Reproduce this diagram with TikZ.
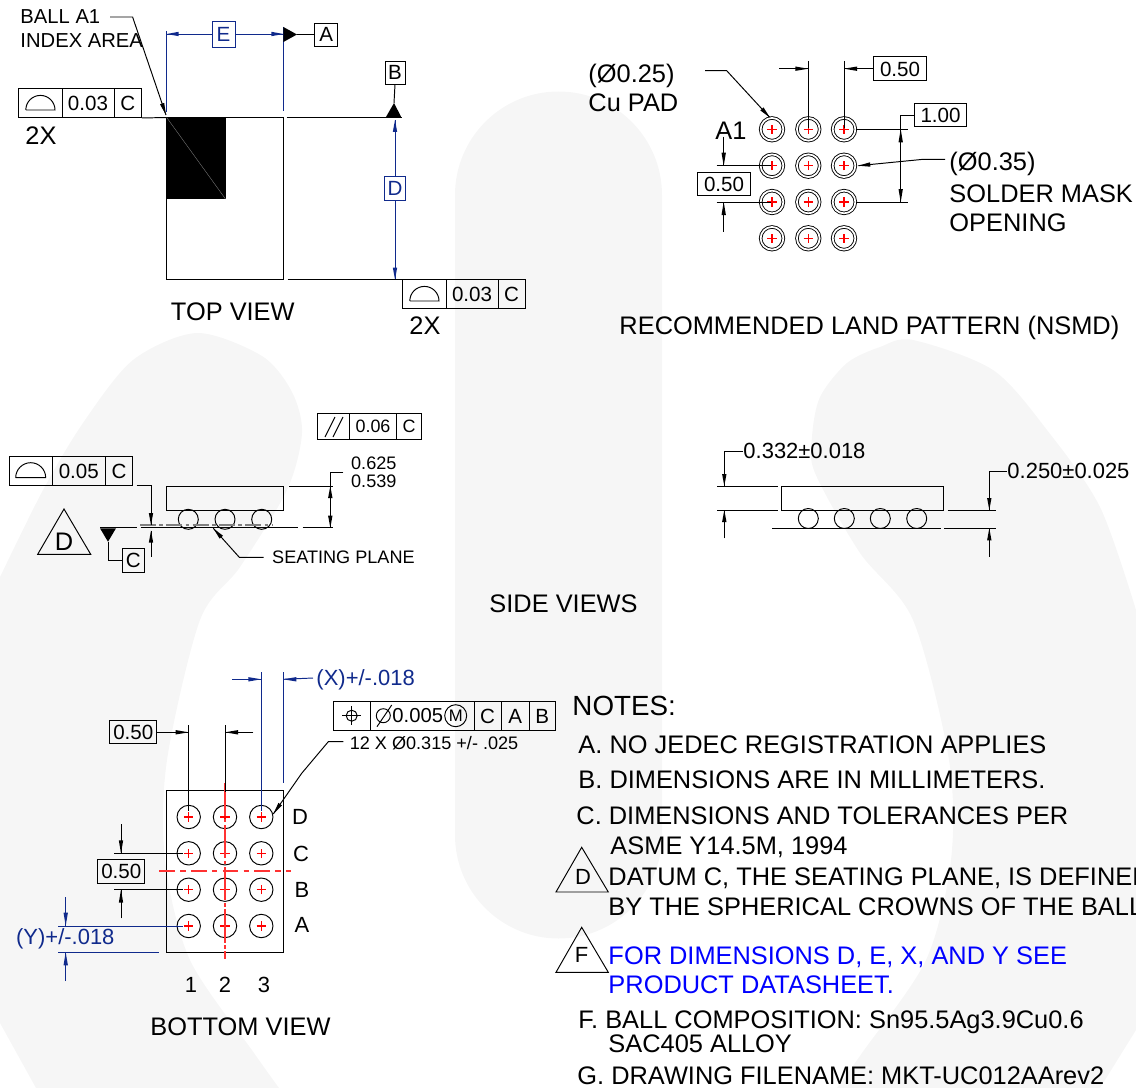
\documentclass[tikz,border=0pt]{standalone}
\usepackage{fontspec}
\usepackage{xcolor}
\setmainfont{Liberation Sans}
\definecolor{dimblue}{RGB}{16,42,140}
\definecolor{noteblue}{RGB}{0,0,255}
\definecolor{padred}{RGB}{255,0,0}
\definecolor{linered}{RGB}{255,50,50}
\definecolor{wmgray}{RGB}{246,246,246}
\begin{document}
\begin{tikzpicture}[x=0.02cm, y=0.02cm, line width=0.55pt]
\tikzstyle{every node}+=[inner sep=0pt]
\tikzstyle{labelbig}=[font=\fontsize{14.45}{17}\selectfont, anchor=west, text height=10.3pt, text depth=0pt]
\tikzstyle{labelmid}=[font=\fontsize{12.5}{15}\selectfont, anchor=west, text height=9pt, text depth=0pt]
\tikzstyle{labelbox}=[font=\fontsize{11.5}{14}\selectfont, anchor=west, text height=8.3pt, text depth=0pt]
\tikzstyle{labelsmall}=[font=\fontsize{10.3}{12}\selectfont, anchor=west, text height=7.4pt, text depth=0pt]
\tikzstyle{tolbox}=[draw, black, rectangle, font=\fontsize{11.7}{14}\selectfont, text height=8.4pt, text depth=0pt]
\tikzstyle{tolboxsmall}=[tolbox, font=\fontsize{10.2}{12}\selectfont, text height=7.3pt]
\tikzstyle{dimbox}=[tolbox, draw=dimblue, text=dimblue]
\tikzstyle{crossmark}=[path picture={
  \draw [padred, line width=0.62pt] ([xshift=-2.6pt]path picture bounding box.center) -- ([xshift=2.6pt]path picture bounding box.center);
  \draw [padred, line width=0.62pt] ([yshift=-2.6pt]path picture bounding box.center) -- ([yshift=2.6pt]path picture bounding box.center);}]
\tikzstyle{landpad}=[circle, draw, line width=0.5pt, double, double distance=1pt, minimum size=0.454cm, crossmark]
\tikzstyle{ballpad}=[circle, draw, minimum size=0.468cm, crossmark]
\useasboundingbox (0,0) rectangle (1136,-1088);
% watermark
\fill [wmgray] (455,-195) arc (180:0:103.5) -- (662,-835) arc (0:-180:103.5) -- cycle;
\fill [wmgray] (0,-577) -- plot [smooth] coordinates {(0,-577) (43,-490) (83,-423) (133,-360) (197,-333) (262,-356) (292,-392) (302,-433) (287,-490) (240,-567) (200,-620) (167,-760) (165,-860) (190,-960) (254,-1053) (279,-1088)} -- (36,-1088) -- (0,-1023) -- cycle;
\fill [wmgray] (1136,-610) -- plot [smooth] coordinates {(1136,-610) (1100,-507) (1047,-430) (993,-370) (913,-340) (880,-347) (847,-363) (820,-397) (812,-437) (815,-473) (860,-553) (913,-620) (949,-760) (951,-860) (926,-960) (862,-1053) (837,-1088)} -- (1100,-1088) -- (1136,-1030) -- cycle;
% top view
\draw [black] (166.7,-117.5) rectangle (283.4,-279.5);
\fill [black] (166.7,-117.5) rectangle (225.5,-199);
\draw [gray, line width=0.2pt] (166.7,-117.5) -- (225.5,-199);
\node [labelbox] (ballidx) at (20,-16) {BALL A1};
\node [labelbox] (indexarea) at (20,-40) {INDEX AREA};
\draw [black] (110,-17) -- (132.6,-17) -- (166,-115);
\fill [black] (166,-115) -- (164.2,-102.9) -- (160,-104.3);
\draw [dimblue] (166.7,-31) -- (166.7,-112);
\draw [dimblue] (283.4,-27) -- (283.4,-111);
\node [dimbox, minimum width=0.46cm, minimum height=0.52cm] (dimE) at (223.5,-34) {E};
\draw [dimblue] (dimE.west) -- (166.7,-34);
\fill [dimblue] (166.7,-34) -- (178.7,-31.8) -- (178.7,-36.2);
\draw [dimblue] (dimE.east) -- (283.4,-34);
\fill [dimblue] (283.4,-34) -- (271.4,-31.8) -- (271.4,-36.2);
\node [tolbox, minimum width=0.45cm, minimum height=0.46cm] (datA) at (326.2,-34.5) {A};
\fill [black] (283.4,-27) -- (297,-34.5) -- (283.4,-42);
\draw [black] (297,-34.5) -- (datA.west);
\node [tolbox, minimum width=0.4cm, minimum height=0.46cm] (datB) at (395,-72.5) {B};
\draw [black] (datB.south) -- (394,-103);
\fill [black] (394,-103) -- (385.7,-117.5) -- (401.5,-117.5);
\draw [black] (286.5,-117.5) -- (401.5,-117.5);
\node [dimbox, minimum width=0.42cm, minimum height=0.47cm] (dimD) at (395,-188.5) {D};
\draw [dimblue] (dimD.north) -- (395,-120);
\fill [dimblue] (395,-120) -- (392.8,-132) -- (397.2,-132);
\draw [dimblue] (dimD.south) -- (395,-279.5);
\fill [dimblue] (395,-279.5) -- (392.8,-267.5) -- (397.2,-267.5);
\draw [black] (287.5,-279.5) -- (402,-279.5);
\node [tolbox, minimum width=0.876cm, minimum height=0.59cm] (topa) at (40.1,-102.75) {};
\node [tolbox, minimum width=1.04cm, minimum height=0.59cm] (topb) at (88,-102.75) {0.03};
\node [tolbox, minimum width=0.55cm, minimum height=0.59cm] (topc) at (127.75,-102.75) {C};
\draw [black] (25.8,-110) -- (55,-110) arc (0:180:14.6);
\draw [black] (topc.south east) -- (166.7,-117.5);
\node [labelbig] (topx) at (25,-135) {2X};
\node [tolbox, minimum width=0.88cm, minimum height=0.57cm] (bota) at (424,-293.75) {};
\node [tolbox, minimum width=1.04cm, minimum height=0.57cm] (botb) at (472,-293.75) {0.03};
\node [tolbox, minimum width=0.54cm, minimum height=0.57cm] (botc) at (511.5,-293.75) {C};
\draw [black] (409.8,-301) -- (439,-301) arc (0:180:14.6);
\node [labelbig] (botx) at (409,-325) {2X};
\node [labelbig] (topview) at (170.5,-311) {TOP VIEW};
% land pattern
\node [labelbig] (cupad1) at (588,-73) {(Ø0.25)};
\node [labelbig] (cupad2) at (588,-102) {Cu PAD};
\draw [black] (705,-70.7) -- (726.7,-70.7) -- (770,-117.7);
\fill [black] (770,-117.7) -- (763.5,-107.4) -- (760.3,-110.4);
\node [labelbig, anchor=center] (aone) at (731,-130) {A1};
\node [landpad] (p11) at (772,-129.3) {};
\node [landpad] (p12) at (808.3,-129.3) {};
\node [landpad] (p13) at (844,-129.3) {};
\node [landpad] (p21) at (772,-165.7) {};
\node [landpad] (p22) at (808.3,-165.7) {};
\node [landpad] (p23) at (844,-165.7) {};
\node [landpad] (p31) at (772,-202) {};
\node [landpad] (p32) at (808.3,-202) {};
\node [landpad] (p33) at (844,-202) {};
\node [landpad] (p41) at (772,-238.3) {};
\node [landpad] (p42) at (808.3,-238.3) {};
\node [landpad] (p43) at (844,-238.3) {};
\draw [black] (808.3,-61) -- ([yshift=-6pt]p12.north);
\draw [black] (844,-61) -- ([yshift=-6pt]p13.north);
\node [tolbox, minimum width=1.07cm, minimum height=0.48cm] (landpitchx) at (900,-68.7) {0.50};
\draw [black] (779.3,-68.7) -- (808.3,-68.7);
\fill [black] (808.3,-68.7) -- (795.3,-66.5) -- (795.3,-70.9);
\draw [black] (landpitchx.west) -- (844,-68.7);
\fill [black] (844,-68.7) -- (857,-66.5) -- (857,-70.9);
\draw [black] (716.7,-165.7) -- ([xshift=6pt]p21.west);
\draw [black] (716.7,-202) -- ([xshift=6pt]p31.west);
\draw [black] (723.7,-136.7) -- (723.7,-165.7);
\fill [black] (723.7,-165.7) -- (721.5,-152.7) -- (725.9,-152.7);
\draw [black] (723.7,-231.7) -- (723.7,-202);
\fill [black] (723.7,-202) -- (721.5,-215) -- (725.9,-215);
\node [tolbox, minimum width=1.07cm, minimum height=0.47cm] (landpitchy) at (724,-184) {0.50};
\draw [black] (p13.east) -- (907.7,-129.3);
\draw [black] (p33.east) -- (907.7,-202);
\node [tolbox, minimum width=1.05cm, minimum height=0.47cm] (landspan) at (940.5,-115) {1.00};
\draw [black] (landspan.west) -- (900.7,-115) -- (900.7,-202);
\fill [black] (900.7,-129.3) -- (898.5,-142.3) -- (902.9,-142.3);
\fill [black] (900.7,-202) -- (898.5,-189) -- (902.9,-189);
\draw [black] (945,-159.3) -- (923.3,-159.3) -- (858.3,-165.7);
\fill [black] (858.3,-165.7) -- (870.4,-166.7) -- (870,-162.3);
\node [labelbig] (mask1) at (949,-161) {(Ø0.35)};
\node [labelbig] (mask2) at (949,-193) {SOLDER MASK};
\node [labelbig] (mask3) at (949,-222) {OPENING};
\node [labelbig] (landtitle) at (619,-325) {RECOMMENDED LAND PATTERN (NSMD)};
% side view with datum
\node [tolboxsmall, minimum width=0.632cm, minimum height=0.52cm] (para) at (333.5,-426.3) {};
\node [tolboxsmall, minimum width=0.948cm, minimum height=0.52cm] (parb) at (373,-426.3) {0.06};
\node [tolboxsmall, minimum width=0.5cm, minimum height=0.52cm] (parc) at (409.2,-426.3) {C};
\draw [black] (325,-437) -- (335,-417);
\draw [black] (333,-437) -- (343,-417);
\node [tolbox, minimum width=0.866cm, minimum height=0.58cm] (sida) at (30.65,-471.2) {};
\node [tolbox, minimum width=1.06cm, minimum height=0.58cm] (sidb) at (78.8,-471.2) {0.05};
\node [tolbox, minimum width=0.548cm, minimum height=0.58cm] (sidc) at (119,-471.2) {C};
\draw [black] (15.7,-477.7) -- (45.7,-477.7) arc (0:180:15);
\draw [black] (166.7,-486) rectangle (283.3,-510);
\draw [black] (188.3,-519.3) circle (10);
\draw [black] (225,-519.3) circle (10);
\draw [black] (261.7,-519.3) circle (10);
\draw [black] (100,-527.7) -- (136.7,-527.7);
\draw [black] (140.7,-527.7) -- (297.7,-527.7);
\draw [black] (302.7,-527.7) -- (333.3,-527.7);
\draw [gray, line width=0.6pt, dash pattern=on 9pt off 2pt on 2pt off 2pt] (140,-525) -- (272,-525);
\draw [black] (289,-486) -- (333.3,-486);
\draw [black] (136.7,-485.7) -- (151,-485.7) -- (151,-525);
\fill [black] (151,-525) -- (148.8,-513) -- (153.2,-513);
\draw [black] (151,-556.7) -- (151,-530.7);
\fill [black] (151,-530.7) -- (148.8,-542.7) -- (153.2,-542.7);
\node [labelsmall] (heighttop) at (350.7,-462.7) {0.625};
\node [labelsmall] (heightbot) at (350.7,-481) {0.539};
\draw [black] (343.3,-472.7) -- (330.3,-472.7) -- (330.3,-527.7);
\fill [black] (330.3,-486) -- (328.1,-498) -- (332.5,-498);
\fill [black] (330.3,-527.7) -- (328.1,-515.7) -- (332.5,-515.7);
\node [labelsmall] (seating) at (271.7,-557.3) {SEATING PLANE};
\draw [black] (seating.west) ++(-8,0) -- (239.3,-557.3) -- (213.3,-528.3);
\fill [black] (213.3,-528.3) -- (222.9,-535.7) -- (219.7,-538.7);
\fill [black] (100,-528.3) -- (116,-528.3) -- (108,-541.7);
\node [tolbox, minimum width=0.44cm, minimum height=0.48cm] (datC) at (133.3,-560.3) {C};
\draw [black] (108,-541.7) -- (108,-560.3) -- (datC.west);
\draw [black] (64,-509) -- (37.7,-554.3) -- (90.7,-554.3) -- cycle;
\node [labelbig, anchor=center] (triD) at (64,-541) {D};
% side view
\node [labelbig] (sidetitle) at (489,-603) {SIDE VIEWS};
\node [labelmid] (bodyh) at (743,-451) {0.332±0.018};
\draw [black] (781.7,-486) rectangle (943.3,-510);
\draw [black] (808.3,-518.5) circle (10);
\draw [black] (844.3,-518.5) circle (10);
\draw [black] (880.3,-518.5) circle (10);
\draw [black] (916.7,-518.5) circle (10);
\draw [black] (772.3,-528.3) -- (940.7,-528.3);
\draw [black] (944,-528.3) -- (996,-528.3);
\draw [black] (947.7,-510) -- (996,-510);
\draw [black] (717.3,-486) -- (777.7,-486);
\draw [black] (717.3,-510) -- (777.7,-510);
\draw [black] (bodyh.west) -- (724.3,-451) -- (724.3,-486);
\fill [black] (724.3,-486) -- (722.1,-474) -- (726.5,-474);
\draw [black] (724.3,-538.3) -- (724.3,-510);
\fill [black] (724.3,-510) -- (722.1,-522) -- (726.5,-522);
\node [labelmid] (ballh) at (1007,-471) {0.250±0.025};
\draw [black] (ballh.west) -- (989.3,-471) -- (989.3,-510);
\fill [black] (989.3,-510) -- (987.1,-498) -- (991.5,-498);
\draw [black] (989.3,-556.7) -- (989.3,-528.3);
\fill [black] (989.3,-528.3) -- (987.1,-540.3) -- (991.5,-540.3);
% bottom view
\draw [black] (166.3,-790.7) rectangle (283.7,-952.3);
\node [ballpad] (b11) at (188.7,-817) {};
\node [ballpad] (b12) at (225,-817) {};
\node [ballpad] (b13) at (261.3,-817) {};
\node [ballpad] (b21) at (188.7,-853.3) {};
\node [ballpad] (b22) at (225,-853.3) {};
\node [ballpad] (b23) at (261.3,-853.3) {};
\node [ballpad] (b31) at (188.7,-889.7) {};
\node [ballpad] (b32) at (225,-889.7) {};
\node [ballpad] (b33) at (261.3,-889.7) {};
\node [ballpad] (b41) at (188.7,-926) {};
\node [ballpad] (b42) at (225,-926) {};
\node [ballpad] (b43) at (261.3,-926) {};
\draw [linered, line width=0.6pt, dash pattern=on 19pt off 1.5pt on 2pt off 1.5pt] (225,-782.7) -- (225,-959.3);
\draw [linered, line width=0.6pt, dash pattern=on 9pt off 3pt on 3pt off 3pt] (159.3,-871) -- (290.7,-871);
\draw [black] (188.7,-725) -- ([yshift=-3.5pt]b11.north);
\draw [black] (225,-725) -- (225,-791.7);
\node [tolbox, minimum width=0.934cm, minimum height=0.466cm] (ballpitchx) at (133.3,-732.3) {0.50};
\draw [black] (ballpitchx.east) -- (188.7,-732.3);
\fill [black] (188.7,-732.3) -- (175.7,-730.1) -- (175.7,-734.5);
\draw [black] (253.3,-732.3) -- (225,-732.3);
\fill [black] (225,-732.3) -- (238,-730.1) -- (238,-734.5);
\draw [dimblue] (261.3,-672.3) -- ([yshift=-3.5pt]b13.north);
\draw [dimblue] (283.3,-672.3) -- (283.3,-782.7);
\node [labelmid, text=dimblue] (xdim) at (316,-678) {(X)+/-.018};
\draw [dimblue] (232.3,-679.3) -- (261.3,-679.3);
\fill [dimblue] (261.3,-679.3) -- (248.3,-677.1) -- (248.3,-681.5);
\draw [dimblue] (xdim.west) ++(-3,0) -- (283.3,-679.3);
\fill [dimblue] (283.3,-679.3) -- (296.3,-677.1) -- (296.3,-681.5);
\node [tolbox, minimum width=0.734cm, minimum height=0.566cm] (posa) at (351.65,-715.85) {};
\node [tolbox, minimum width=2.08cm, minimum height=0.566cm] (posb) at (422,-715.85) {};
\node [tolbox, minimum width=0.54cm, minimum height=0.566cm] (posc) at (487.5,-715.85) {C};
\node [tolbox, minimum width=0.566cm, minimum height=0.566cm] (posd) at (515.15,-715.85) {A};
\node [tolbox, minimum width=0.514cm, minimum height=0.566cm] (pose) at (542.15,-715.85) {B};
\draw [black] (351.7,-715.7) circle (5.5);
\draw [black] (342.4,-715.7) -- (361,-715.7);
\draw [black] (351.7,-706.4) -- (351.7,-725);
\draw [black] (383.3,-715.7) circle (7);
\draw [black] (377,-726.7) -- (391.7,-705);
\node [labelbox] (posval) at (392,-715.7) {0.005};
\node [circle, draw, minimum size=0.44cm, font=\fontsize{9.5}{11}\selectfont] (posm) at (455.7,-715.7) {M};
\node [labelsmall] (balldia) at (349.3,-743.3) {12 X Ø0.315 +/- .025};
\draw [black] (343.3,-741.7) -- (328.3,-741.7) -- (301.7,-773.3) -- (273.3,-814);
\fill [black] (273.3,-814) -- (282,-805.5) -- (278.4,-802.9);
\draw [black] (114,-853.3) -- ([xshift=3.5pt]b21.west);
\draw [black] (114,-889.7) -- ([xshift=3.5pt]b31.west);
\draw [black] (121,-824.3) -- (121,-853.3);
\fill [black] (121,-853.3) -- (118.8,-840.3) -- (123.2,-840.3);
\draw [black] (121,-918.3) -- (121,-889.7);
\fill [black] (121,-889.7) -- (118.8,-902.7) -- (123.2,-902.7);
\node [tolbox, minimum width=0.934cm, minimum height=0.48cm] (ballpitchy) at (121.3,-871.3) {0.50};
\draw [dimblue] (58.3,-926) -- ([xshift=3.5pt]b41.west);
\draw [dimblue] (58.3,-952.3) -- (159.3,-952.3);
\draw [dimblue] (65.7,-897.3) -- (65.7,-925.7);
\fill [dimblue] (65.7,-925.7) -- (63.5,-912.7) -- (67.9,-912.7);
\draw [dimblue] (65.7,-981) -- (65.7,-952.3);
\fill [dimblue] (65.7,-952.3) -- (63.5,-965.3) -- (67.9,-965.3);
\node [labelmid, text=dimblue] (ydim) at (15.7,-937) {(Y)+/-.018};
\node [labelmid, anchor=center] (rowD) at (300,-817) {D};
\node [labelmid, anchor=center] (rowC) at (301,-853.5) {C};
\node [labelmid, anchor=center] (rowB) at (302,-889.7) {B};
\node [labelmid, anchor=center] (rowA) at (302,-925) {A};
\node [labelmid, anchor=center] (col1) at (191,-985) {1};
\node [labelmid, anchor=center] (col2) at (225,-985) {2};
\node [labelmid, anchor=center] (col3) at (264,-985) {3};
\node [labelbig] (bottomview) at (150,-1026) {BOTTOM VIEW};
% notes
\node [labelbig, font=\fontsize{15.8}{19}\selectfont, text height=11.3pt] (notes) at (572,-706) {NOTES:};
\node [labelbig] (notea) at (578,-744) {A. NO JEDEC REGISTRATION APPLIES};
\node [labelbig] (noteb) at (578,-779) {B. DIMENSIONS ARE IN MILLIMETERS.};
\node [labelbig] (notec) at (576,-815) {C. DIMENSIONS AND TOLERANCES PER};
\node [labelbig] (notec2) at (610,-845) {ASME Y14.5M, 1994};
\draw [black] (581.7,-847.3) -- (556,-892) -- (608.3,-892) -- cycle;
\node [labelmid, anchor=center] (noteD) at (583,-876.7) {D};
\node [labelbig] (noted) at (608,-876) {DATUM C, THE SEATING PLANE, IS DEFINED};
\node [labelbig] (noted2) at (608,-906) {BY THE SPHERICAL CROWNS OF THE BALLS};
\draw [black] (581.7,-927.3) -- (556,-972.3) -- (608.3,-972.3) -- cycle;
\node [labelmid, anchor=center] (noteF) at (581.7,-955) {F};
\node [labelbig, text=noteblue] (notee) at (608,-955) {FOR DIMENSIONS D, E, X,  AND Y SEE};
\node [labelbig, text=noteblue] (notee2) at (608,-984) {PRODUCT DATASHEET.};
\node [labelbig] (notef) at (578,-1019) {F. BALL COMPOSITION: Sn95.5Ag3.9Cu0.6};
\node [labelbig] (notef2) at (608,-1043) {SAC405 ALLOY};
\node [labelbig] (noteg) at (577,-1075) {G. DRAWING FILENAME: MKT-UC012AArev2};
\end{tikzpicture}
\end{document}
